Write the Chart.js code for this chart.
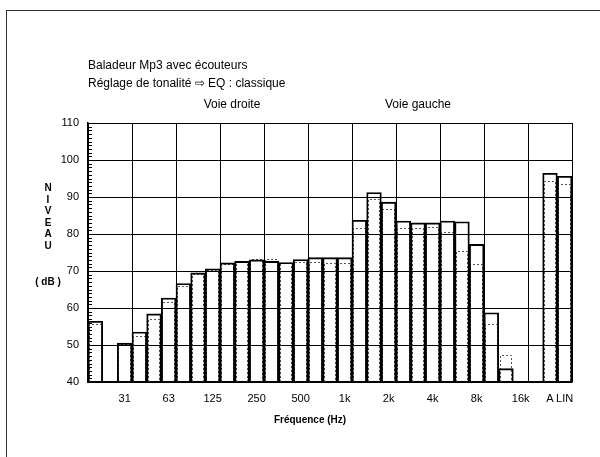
<!DOCTYPE html>
<html>
<head>
<meta charset="utf-8">
<script src="https://cdn.jsdelivr.net/npm/chart.js@4.4.1/dist/chart.umd.min.js"></script>
<style>
    html, body { margin: 0; padding: 0; background: #fff; overflow: hidden; }
    body { width: 600px; height: 457px; position: relative; font-family: Arial, "Liberation Sans", sans-serif; color: #000; }
    #frame { position: absolute; left: 6px; top: 10px; width: 640px; height: 500px; border: 1.5px solid #333; box-sizing: border-box; }
    #chart { position: absolute; left: 0; top: 0; }
    .txt { position: absolute; font-size: 12px; white-space: nowrap; }
    .bold { font-weight: bold; font-size: 10px; }
</style>
</head>
<body>
<div id="frame"></div>
<canvas id="chart" width="600" height="457"></canvas>
<div class="txt" style="left:88px; top:58px;">Baladeur Mp3 avec écouteurs</div>
<div class="txt" style="left:88px; top:76px;">Réglage de tonalité ⇨ EQ : classique</div>
<div class="txt" style="left:232px; top:97px; transform:translateX(-50%);">Voie droite</div>
<div class="txt" style="left:418px; top:97px; transform:translateX(-50%);">Voie gauche</div>
<div class="txt bold" style="left:48px; top:182px; transform:translateX(-50%); text-align:center; line-height:11.6px;">N<br>I<br>V<br>E<br>A<br>U</div>
<div class="txt bold" style="left:48px; top:276px; transform:translateX(-50%);">( dB )</div>
<div class="txt bold" style="left:310px; top:414px; transform:translateX(-50%);">Fréquence (Hz)</div>
<script>
document.addEventListener('DOMContentLoaded', function() {
    // bandes de tiers d'octave + A / LIN
    const bands = ['20', '25', '31.5', '40', '50', '63', '80', '100', '125', '160', '200', '250',
        '315', '400', '500', '630', '800', '1k', '1.25k', '1.6k', '2k', '2.5k', '3.15k', '4k',
        '5k', '6.3k', '8k', '10k', '12.5k', '16k', '20k', 'A', 'LIN'];
    const tickLabels = ['', '', '31', '', '', '63', '', '', '125', '', '', '250',
        '', '', '500', '', '', '1k', '', '', '2k', '', '', '4k',
        '', '', '8k', '', '', '16k', '', 'A', 'LIN'];
    const voieDroite = [56.4, null, 50.5, 53.5, 58.4, 62.7, 66.6, 69.5, 70.6, 72.2, 72.6, 73.0,
        72.6, 72.3, 73.1, 73.6, 73.6, 73.6, 83.7, 91.2, 88.6, 83.5, 83.0, 83.0,
        83.5, 83.3, 77.2, 58.7, 43.6, null, null, 96.4, 95.6];
    const voieGauche = [55.7, null, 50.4, 52.5, 57.0, 61.5, 65.9, 69.3, 70.4, 72.0, 72.5, 73.2,
        73.2, 72.2, 72.5, 72.5, 72.1, 72.1, 81.7, 89.4, 86.8, 81.6, 81.6, 81.8,
        80.5, 75.5, 71.8, 55.7, 47.2, null, null, 94.4, 93.6];
    const yTicks = [40, 50, 60, 70, 80, 90, 100, 110];

    // barres pointillées (voie gauche) : Chart.js ne gère pas borderDash sur les barres
    const dottedBars = {
        id: 'dottedBars',
        beforeDatasetsDraw(chart) {
            const meta = chart.getDatasetMeta(1);
            const base = chart.scales.y.getBasePixel();
            const c = chart.ctx;
            c.save();
            c.strokeStyle = '#555';
            c.lineWidth = 1;
            c.setLineDash([2, 2]);
            meta.data.forEach((bar, i) => {
                if (voieGauche[i] == null) return;
                const l = Math.round(bar.x - bar.width / 2) + 1.5;
                const r = Math.round(bar.x + bar.width / 2) - 1.5;
                const t = Math.round(bar.y) + 0.5;
                c.beginPath();
                c.moveTo(l, base);
                c.lineTo(l, t);
                c.lineTo(r, t);
                c.lineTo(r, base);
                c.stroke();
            });
            c.restore();
        }
    };

    // petites graduations de 1 dB sur l'axe gauche
    const minorTicks = {
        id: 'minorTicks',
        afterDraw(chart) {
            const y = chart.scales.y;
            const c = chart.ctx;
            const x0 = chart.chartArea.left;
            c.save();
            c.strokeStyle = '#000';
            c.lineWidth = 1;
            c.beginPath();
            for (let v = yTicks[0]; v <= yTicks[yTicks.length - 1]; v++) {
                const py = Math.round(y.getPixelForValue(v)) + 0.5;
                c.moveTo(x0, py);
                c.lineTo(x0 + 4, py);
            }
            c.stroke();
            c.restore();
        }
    };

    new Chart(document.getElementById('chart').getContext('2d'), {
        type: 'bar',
        data: {
            labels: bands,
            datasets: [{
                label: 'Voie droite',
                data: voieDroite,
                backgroundColor: 'rgba(0,0,0,0)',
                borderColor: '#000',
                borderWidth: 1.2,
                barPercentage: 1,
                categoryPercentage: 1,
                grouped: false
            }, {
                label: 'Voie gauche',
                data: voieGauche,
                backgroundColor: 'rgba(0,0,0,0)',
                borderColor: 'rgba(0,0,0,0)',
                borderWidth: 0,
                barPercentage: 1,
                categoryPercentage: 1,
                grouped: false
            }]
        },
        options: {
            responsive: false,
            animation: false,
            layout: { padding: { top: 123, right: 28, left: 0, bottom: 45 } },
            plugins: {
                legend: { display: false },
                tooltip: { enabled: false }
            },
            scales: {
                x: {
                    afterFit: s => { s.height = 30; },
                    border: { display: true, color: '#000', width: 1.5 },
                    grid: {
                        offset: true,
                        drawTicks: false,
                        lineWidth: 1,
                        color: ctx => (ctx.index === undefined || ctx.index % 3 === 0) ? '#000' : 'rgba(0,0,0,0)'
                    },
                    ticks: {
                        autoSkip: false,
                        maxRotation: 0,
                        padding: 10,
                        color: '#000',
                        font: { family: 'Arial, "Liberation Sans"', size: 11 },
                        callback: (v, i) => tickLabels[i]
                    }
                },
                y: {
                    min: 40,
                    max: 110,
                    afterFit: s => { s.width = 88; },
                    afterBuildTicks: s => { s.ticks = yTicks.map(v => ({ value: v })); },
                    border: { display: true, color: '#000', width: 1.5 },
                    grid: { drawTicks: false, color: '#000', lineWidth: 1 },
                    ticks: {
                        padding: 9,
                        color: '#000',
                        font: { family: 'Arial, "Liberation Sans"', size: 11 }
                    }
                }
            }
        },
        plugins: [dottedBars, minorTicks]
    });
});
</script>
</body>
</html>
